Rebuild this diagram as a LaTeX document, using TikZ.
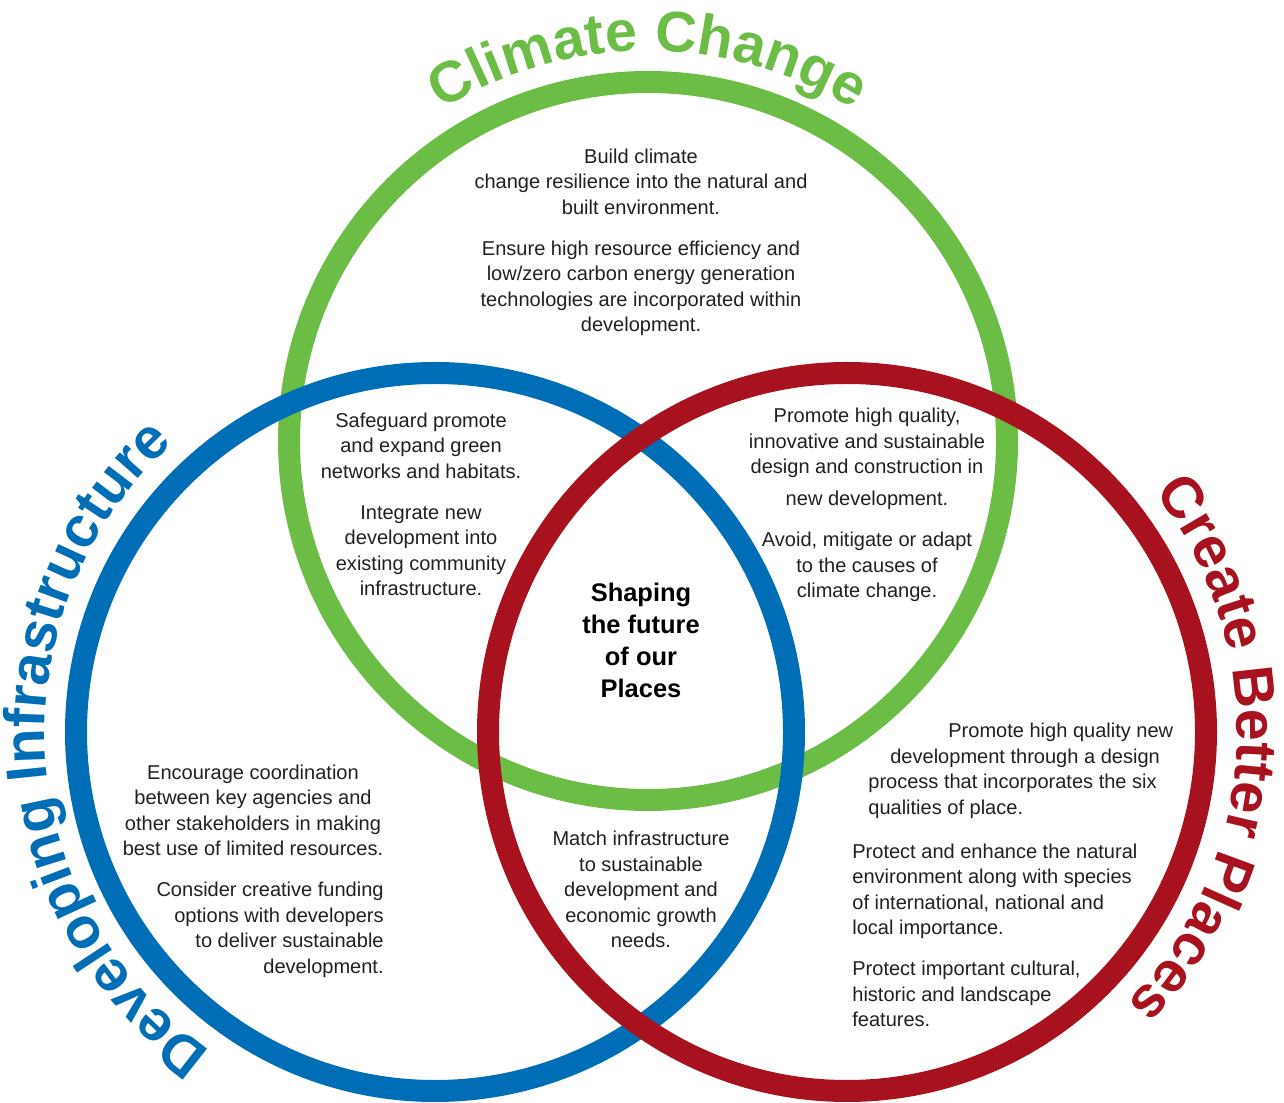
\documentclass[tikz,border=0pt]{standalone}
\usepackage{fontspec}
\setmainfont{Liberation Sans}
\usetikzlibrary{decorations.text}

\definecolor{climateGreen}{RGB}{108,189,69}
\definecolor{infraBlue}{RGB}{0,110,182}
\definecolor{placesRed}{RGB}{168,17,30}
\definecolor{bodyText}{RGB}{35,31,32}

\newcommand{\bodyfont}{\fontsize{11.4}{14.5}\selectfont}
\newcommand{\hubfont}{\fontsize{14.5}{18.2}\selectfont\bfseries}
\newcommand{\titlefont}{\fontsize{32.7}{38}\selectfont\bfseries}

\begin{document}
\begin{tikzpicture}[x = 0.02cm, y = 0.02cm,
    ring/.style = {line width = 0.44cm},
    blurb/.style = {text = bodyText, font = \bodyfont, inner sep = 0pt},
    ringtitle/.style = {decorate, decoration = {text along path, text align = center, text color = #1}},
    ]

    \useasboundingbox (0,0) rectangle (1284,1102);

    %% Drawing the three rings (green under blue under red)
    \draw [ring, climateGreen]
    (648,661)
    coordinate (greenCentre)
    circle [radius = 359]
    ;

    \draw [ring, infraBlue]
    (435,370)
    coordinate (blueCentre)
    circle [radius = 359]
    ;

    \draw [ring, placesRed]
    (847,370)
    coordinate (redCentre)
    circle [radius = 359]
    ;

    %% Titles round the rings
    \path [ringtitle = climateGreen, decoration = {text = {|\titlefont|Climate Change}}]
    (greenCentre) ++(131:390)
    arc [start angle = 131, end angle = 49, radius = 390]
    ;

    \path [ringtitle = infraBlue, decoration = {text = {|\titlefont|Developing Infrastructure}}]
    (blueCentre) ++(246:390)
    arc [start angle = 246, end angle = 121, radius = 390]
    ;

    \path [ringtitle = placesRed, decoration = {text = {|\titlefont|Create Better Places}}]
    (redCentre) ++(46:390)
    arc [start angle = 46, end angle = -52, radius = 390]
    ;

    %% Climate change only
    \node (climateText) [blurb, align = center, anchor = center] at (641,859.5)
    {Build climate \\ change resilience into the natural and \\ built environment. \\[8.8pt]
     Ensure high resource efficiency and \\ low/zero carbon energy generation \\
     technologies are incorporated within \\ development.};

    %% Climate change and infrastructure
    \node (greenBlueText) [blurb, align = center, anchor = center] at (421,597.5)
    {Safeguard promote \\ and expand green \\ networks and habitats. \\[8.8pt]
     Integrate new \\ development into \\ existing community \\ infrastructure.};

    %% Climate change and places
    \node (greenRedText) [blurb, align = center, anchor = center] at (867,597)
    {Promote high quality, \\ innovative and sustainable \\ design and construction in \\[3.7pt]
     new development. \\[8.8pt]
     Avoid, mitigate or adapt \\ to the causes of \\ climate change.};

    %% Centre of the three
    \node (hubText) [text = black, font = \hubfont, align = center, inner sep = 0pt] at (641,462)
    {Shaping \\ the future \\ of our \\ Places};

    %% Infrastructure only
    \node (blueTextA) [blurb, align = center, anchor = center] at (253,291.5)
    {Encourage coordination \\ between key agencies and \\ other stakeholders in making \\ best use of limited resources.};

    \node (blueTextB) [blurb, align = right, anchor = east] at (384,172)
    {Consider creative funding \\ options with developers \\ to deliver sustainable \\ development.};

    %% Infrastructure and places
    \node (blueRedText) [blurb, align = center, anchor = center] at (641,212.5)
    {Match infrastructure \\ to sustainable \\ development and \\ economic growth \\ needs.};

    %% Places only
    \node (redTextA) [blurb, align = left, anchor = west] at (868,331)
    {\hspace*{1.6cm}Promote high quality new \\ \hspace*{0.44cm}development through a design \\
     process that incorporates the six \\ qualities of place.};

    \node (redTextB) [blurb, align = left, anchor = west] at (852,166.5)
    {Protect and enhance the natural \\ environment along with species \\
     of international, national and \\ local importance. \\[8.8pt]
     Protect important cultural, \\ historic and landscape \\ features.};

\end{tikzpicture}
\end{document}
